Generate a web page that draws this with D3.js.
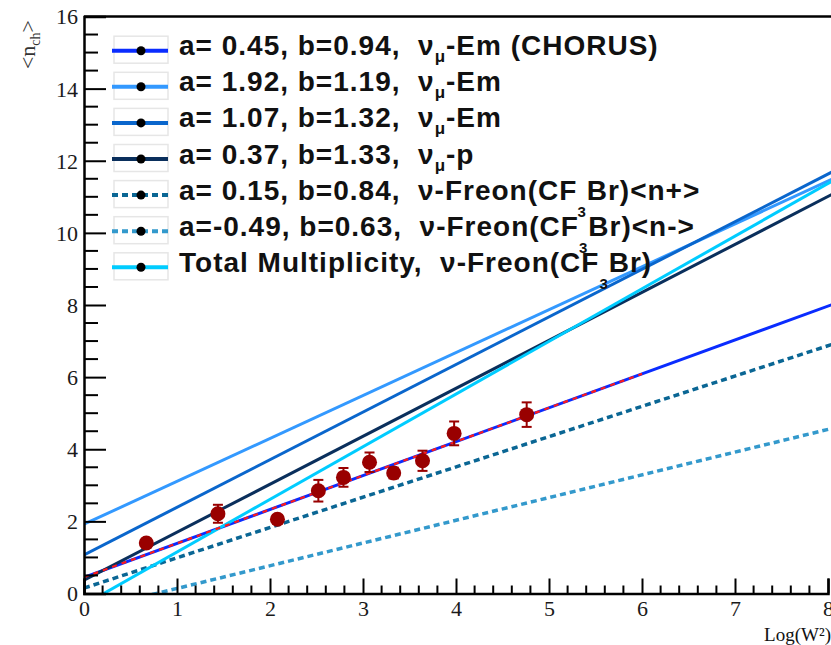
<!DOCTYPE html>
<html>
<head>
<meta charset="utf-8">
<script src="https://cdn.jsdelivr.net/npm/d3@7"></script>
<style>
  body { margin: 0; background: #fff; }
  svg { display: block; }
</style>
</head>
<body>
<div id="chart"></div>
<script>
/* Charged multiplicity vs Log(W^2): fits <n> = a + b*Log(W^2) */

// fit parameters, one per legend entry (last entry has no printed a,b)
const fitA = [0.45, 1.92, 1.07, 0.37, 0.15, -0.49, -0.31];
const fitB = [0.94, 1.19, 1.32, 1.33, 0.84, 0.63, 1.46];
const fitColors = ['#0a2cff', '#3399ff', '#0a66cc', '#0a2f5c', '#0a6694', '#3399cc', '#00ccff'];
const fitDashed = [false, false, false, false, true, true, false];

// legend text pieces: [text, is subscript]
const legendLabels = [
    [['a= 0.45, b=0.94,\u00a0 ν', 0], ['μ', 1], ['-Em (CHORUS)', 0]],
    [['a= 1.92, b=1.19,\u00a0 ν', 0], ['μ', 1], ['-Em', 0]],
    [['a= 1.07, b=1.32,\u00a0 ν', 0], ['μ', 1], ['-Em', 0]],
    [['a= 0.37, b=1.33,\u00a0 ν', 0], ['μ', 1], ['-p', 0]],
    [['a= 0.15, b=0.84,\u00a0 ν-Freon(CF', 0], ['3', 2], ['Br)<n+>', 0]],
    [['a=-0.49, b=0.63,\u00a0 ν-Freon(CF', 0], ['3', 2], ['Br)<n->', 0]],
    [['Total Multiplicity,\u00a0 ν-Freon(CF', 0], ['3', 2], ['Br)', 0]]
];

// measured points
const dataX = [0.67, 1.44, 2.08, 2.52, 2.79, 3.07, 3.33, 3.64, 3.98, 4.76];
const dataY = [1.40, 2.21, 2.06, 2.85, 3.22, 3.64, 3.34, 3.68, 4.44, 4.96];
const dataErr = [0.12, 0.25, 0.12, 0.30, 0.26, 0.27, 0.15, 0.28, 0.33, 0.34];

// red dashed fit drawn over the CHORUS line on this range
const redFitRange = [0, 6];

const xTicks = [0, 1, 2, 3, 4, 5, 6, 7, 8];
const yTicks = [0, 2, 4, 6, 8, 10, 12, 14, 16];

const width = 831, height = 645;
const mLeft = 84, mRight = 828, mTop = 16.5, mBottom = 593.5;

const svg = d3.select('#chart').append('svg')
    .attr('width', width)
    .attr('height', height);

const x = d3.scaleLinear().domain([0, 8]).range([mLeft, mRight]);
const y = d3.scaleLinear().domain([0, 16]).range([mBottom, mTop]);

svg.append('clipPath').attr('id', 'plotclip')
    .append('rect')
    .attr('x', mLeft).attr('y', mTop)
    .attr('width', width - mLeft).attr('height', mBottom - mTop);

const plot = svg.append('g').attr('clip-path', 'url(#plotclip)');

// fit lines
const line = d3.line().x(d => x(d[0])).y(d => y(d[1]));
fitA.forEach((a, i) => {
    let b = fitB[i];
    plot.append('path')
        .attr('d', line([[0, a], [8.1, a + b * 8.1]]))
        .attr('fill', 'none')
        .attr('stroke', fitColors[i])
        .attr('stroke-width', fitDashed[i] ? 3.5 : 3)
        .attr('stroke-dasharray', fitDashed[i] ? '6,4' : null);
});

// red dashed fit over the data
plot.append('path')
    .attr('d', line(redFitRange.map(v => [v, fitA[0] + fitB[0] * v])))
    .attr('fill', 'none')
    .attr('stroke', '#ff1a1a')
    .attr('stroke-width', 2.2)
    .attr('stroke-dasharray', '5,5');

// data points with error bars
const pts = plot.append('g').attr('fill', '#990000').attr('stroke', '#990000');
dataX.forEach((xv, i) => {
    let cx = x(xv), y1 = y(dataY[i] + dataErr[i]), y2 = y(dataY[i] - dataErr[i]);
    pts.append('line').attr('x1', cx).attr('x2', cx).attr('y1', y1).attr('y2', y2).attr('stroke-width', 2);
    pts.append('line').attr('x1', cx - 5).attr('x2', cx + 5).attr('y1', y1).attr('y2', y1).attr('stroke-width', 2);
    pts.append('line').attr('x1', cx - 5).attr('x2', cx + 5).attr('y1', y2).attr('y2', y2).attr('stroke-width', 2);
    pts.append('circle').attr('cx', cx).attr('cy', y(dataY[i])).attr('r', 7.5).attr('stroke', 'none');
});

// axes, ticks pointing into the frame
const tickFont = 'Liberation Serif, Times New Roman, serif';

const xMinor = d3.range(0, 8.01, 0.2).filter(v => Math.abs(v - Math.round(v)) > 1e-6);
const yMinor = d3.range(0, 16.01, 0.5).filter(v => v % 2 !== 0);

const xAxis = svg.append('g')
    .attr('transform', 'translate(0,' + mBottom + ')')
    .call(d3.axisBottom(x).tickValues(xTicks).tickSize(-15).tickPadding(7).tickFormat(d3.format('d')));
xAxis.append('g').selectAll('line').data(xMinor).enter().append('line')
    .attr('x1', d => x(d)).attr('x2', d => x(d)).attr('y1', 0).attr('y2', -8);

const yAxis = svg.append('g')
    .attr('transform', 'translate(' + mLeft + ',0)')
    .call(d3.axisLeft(y).tickValues(yTicks).tickSize(-22).tickPadding(6).tickFormat(d3.format('d')));
yAxis.append('g').selectAll('line').data(yMinor).enter().append('line')
    .attr('x1', 0).attr('x2', 14).attr('y1', d => y(d)).attr('y2', d => y(d));

[xAxis, yAxis].forEach(ax => {
    ax.selectAll('line').attr('stroke', '#000').attr('stroke-width', 2);
    ax.select('.domain').attr('stroke', '#000').attr('stroke-width', 2.5);
    ax.selectAll('text').attr('font-family', tickFont).attr('font-size', 22).attr('fill', '#1a1a1a');
});
yAxis.selectAll('.tick text').attr('dy', '0.34em');

// top frame line
svg.append('line')
    .attr('x1', mLeft).attr('x2', width).attr('y1', mTop).attr('y2', mTop)
    .attr('stroke', '#000').attr('stroke-width', 2.5);

// axis titles
svg.append('text')
    .attr('x', 831).attr('y', 641)
    .attr('text-anchor', 'end')
    .attr('font-family', tickFont)
    .attr('font-size', 19)
    .attr('fill', '#111')
    .text('Log(W²)');

const yTitle = svg.append('text')
    .attr('transform', 'translate(35,20) rotate(-90)')
    .attr('text-anchor', 'end')
    .attr('font-family', tickFont)
    .attr('font-size', 22)
    .attr('fill', '#333');
yTitle.append('tspan').text('<n');
yTitle.append('tspan').attr('font-size', 14).attr('dy', 5).text('ch');
yTitle.append('tspan').attr('dy', -5).text('>');

// legend
const legY0 = 50.7, legStep = 36.1;
const leg = svg.append('g');
legendLabels.forEach((parts, i) => {
    let ly = legY0 + i * legStep;
    leg.append('rect')
        .attr('x', 114).attr('y', ly - 14.5)
        .attr('width', 54).attr('height', 27)
        .attr('fill', 'none').attr('stroke', '#e6e6e6').attr('stroke-width', 1.5);
    leg.append('line')
        .attr('x1', 112).attr('x2', 168).attr('y1', ly).attr('y2', ly)
        .attr('stroke', fitColors[i]).attr('stroke-width', 4)
        .attr('stroke-dasharray', fitDashed[i] ? '6,4' : null);
    leg.append('circle').attr('cx', 141).attr('cy', ly).attr('r', 4.5).attr('fill', '#000');

    let t = leg.append('text')
        .attr('x', 179).attr('y', ly + 4.5)
        .attr('font-family', 'Liberation Sans, Arial, Helvetica, sans-serif')
        .attr('font-weight', 'bold')
        .attr('font-size', 28)
        .attr('letter-spacing', 1)
        .attr('fill', '#111');
    let shift = 0;
    parts.forEach(p => {
        let target = p[1] === 1 ? 7 : (p[1] === 2 ? 17 : 0);
        t.append('tspan')
            .attr('dy', target - shift)
            .attr('font-size', p[1] === 1 ? 17 : (p[1] === 2 ? 15 : 28))
            .text(p[0]);
        shift = target;
    });
});
</script>
</body>
</html>
